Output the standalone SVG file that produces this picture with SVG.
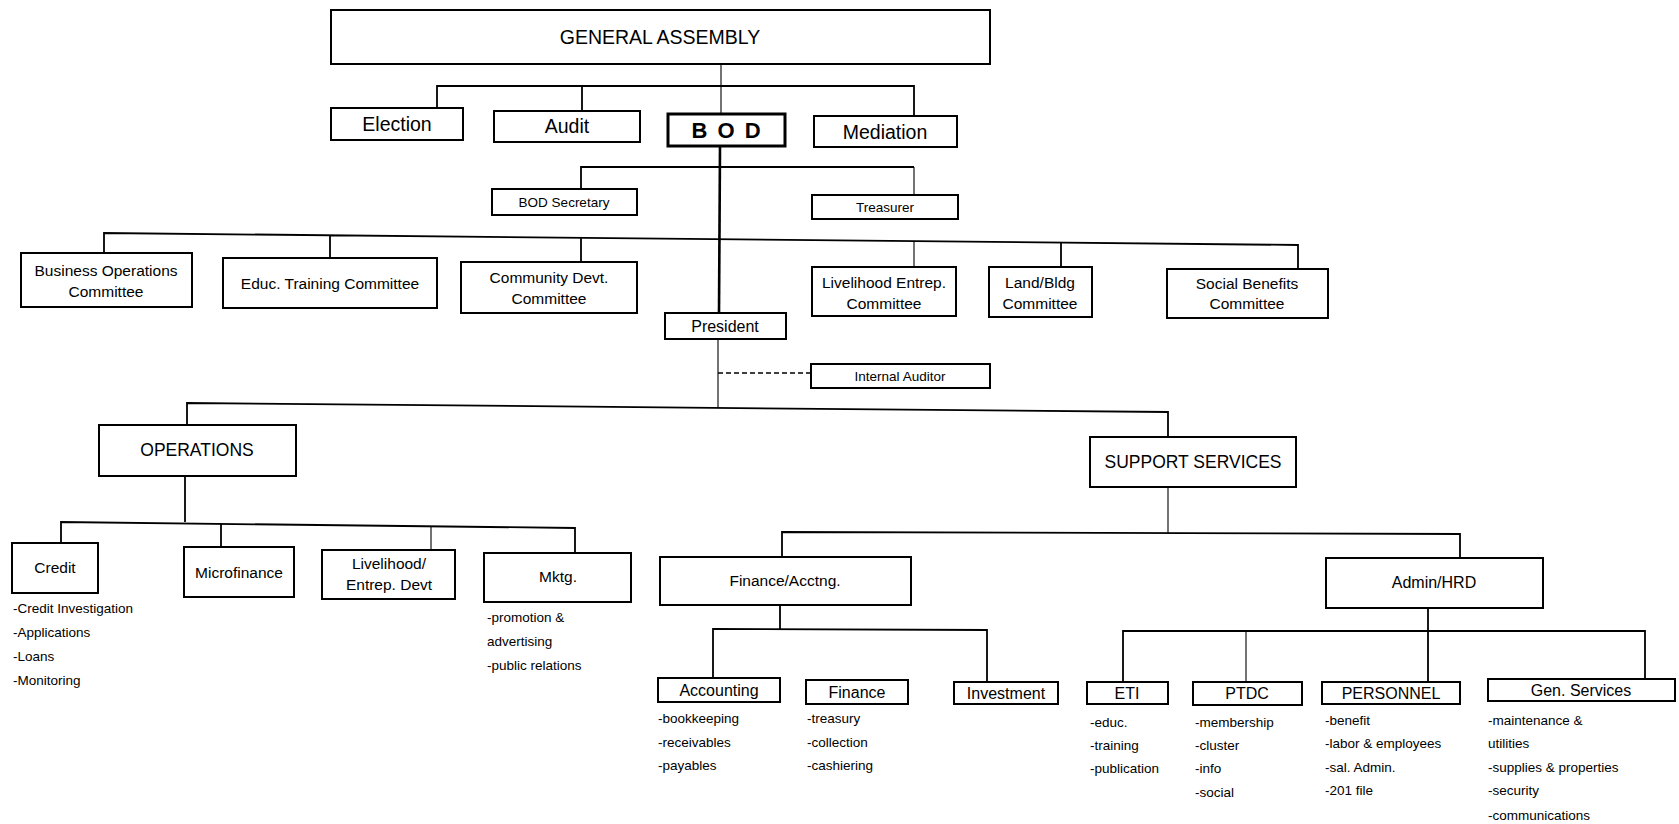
<svg xmlns="http://www.w3.org/2000/svg" width="1679" height="824" viewBox="0 0 1679 824">
<style>
.box{fill:#fff;stroke:#000;stroke-width:2}
.bold{stroke-width:3}
.c{stroke:#000;stroke-width:1.8;fill:none}
.thin{stroke:#000;stroke-width:1.1;fill:none}
.thick{stroke:#000;stroke-width:2.6;fill:none}
.dash{stroke:#000;stroke-width:1.4;stroke-dasharray:5 3;fill:none}
text{font-family:"Liberation Sans",Arial,sans-serif;fill:#000}
.m{text-anchor:middle}
.f19{font-size:19.5px}
.f17{font-size:17.5px}
.f16{font-size:16px}
.f15{font-size:15.5px}
.f13{font-size:13.5px}
.li{font-size:13.5px}
</style>
<rect width="1679" height="824" fill="#fff"/>
<g id="connectors">
<path class="thin" d="M721 64V86"/>
<path class="c" d="M437 108V86H914V116M582 86V111"/>
<path class="thin" d="M721 86V114"/>
<path class="thick" d="M720 146L719 313"/>
<path class="c" d="M581 189V167H914"/>
<path class="thin" d="M914 167V195"/>
<path class="c" d="M104 253V233L1298 245V269M330 235V258M581 237V262M1061 243V267"/>
<path class="thin" d="M914 242V267"/>
<path class="thin" d="M718 339V408"/>
<path class="dash" d="M718 373H811"/>
<path class="c" d="M187 425V403L1168 412V437"/>
<path class="c" d="M185 476V522"/>
<path class="c" d="M61 543V522L575 528V553"/>
<path class="c" d="M221 524V547"/>
<path class="thin" d="M431 526V550"/>
<path class="thin" d="M1168 487V533"/>
<path class="c" d="M782 557V532L1460 534V558"/>
<path class="c" d="M780 605V629"/>
<path class="c" d="M713 678V629L987 630V682"/>
<path class="c" d="M1428 608V682"/>
<path class="c" d="M1123 682V631H1645V679"/>
<path class="thin" d="M1246 631V682"/>
</g>
<g id="general-assembly"><rect class="box" x="331" y="10" width="659" height="54"/><text class="m f19" x="660" y="44">GENERAL ASSEMBLY</text></g>
<g id="election"><rect class="box" x="331" y="108" width="132" height="32"/><text class="m f19" x="397" y="131">Election</text></g>
<g id="audit"><rect class="box" x="494" y="111" width="146" height="31"/><text class="m f19" x="567" y="133">Audit</text></g>
<g id="bod"><rect class="box bold" x="668" y="114" width="117" height="32"/><text class="m" x="727" y="138" style="font-size:22px;font-weight:bold;letter-spacing:2px">B O D</text></g>
<g id="mediation"><rect class="box" x="814" y="116" width="143" height="31"/><text class="m f19" x="885" y="139">Mediation</text></g>
<g id="bod-secretary"><rect class="box" x="492" y="189" width="145" height="26"/><text class="m f13" x="564" y="207">BOD Secretary</text></g>
<g id="treasurer"><rect class="box" x="812" y="195" width="146" height="24"/><text class="m f13" x="885" y="212">Treasurer</text></g>
<g id="business-ops"><rect class="box" x="21" y="253" width="171" height="54"/><text class="m f15" x="106" y="276">Business Operations</text><text class="m f15" x="106" y="297">Committee</text></g>
<g id="educ-training"><rect class="box" x="223" y="258" width="214" height="50"/><text class="m f15" x="330" y="289">Educ. Training Committee</text></g>
<g id="community-devt"><rect class="box" x="461" y="262" width="176" height="51"/><text class="m f15" x="549" y="283">Community Devt.</text><text class="m f15" x="549" y="304">Committee</text></g>
<g id="livelihood-committee"><rect class="box" x="812" y="267" width="144" height="49"/><text class="m f15" x="884" y="288">Livelihood Entrep.</text><text class="m f15" x="884" y="309">Committee</text></g>
<g id="land-bldg"><rect class="box" x="989" y="267" width="103" height="50"/><text class="m f15" x="1040" y="288">Land/Bldg</text><text class="m f15" x="1040" y="309">Committee</text></g>
<g id="social-benefits"><rect class="box" x="1167" y="269" width="161" height="49"/><text class="m f15" x="1247" y="289">Social Benefits</text><text class="m f15" x="1247" y="309">Committee</text></g>
<g id="president"><rect class="box" x="665" y="313" width="121" height="26"/><text class="m f16" x="725" y="332">President</text></g>
<g id="internal-auditor"><rect class="box" x="811" y="364" width="179" height="24"/><text class="m f13" x="900" y="381">Internal Auditor</text></g>
<g id="operations"><rect class="box" x="99" y="425" width="197" height="51"/><text class="m f17" x="197" y="456">OPERATIONS</text></g>
<g id="support-services"><rect class="box" x="1090" y="437" width="206" height="50"/><text class="m f17" x="1193" y="468">SUPPORT SERVICES</text></g>
<g id="credit"><rect class="box" x="12" y="543" width="86" height="50"/><text class="m f15" x="55" y="573">Credit</text>
<text class="li" x="13" y="613">-Credit Investigation</text><text class="li" x="13" y="637">-Applications</text><text class="li" x="13" y="661">-Loans</text><text class="li" x="13" y="685">-Monitoring</text></g>
<g id="microfinance"><rect class="box" x="184" y="547" width="110" height="50"/><text class="m f15" x="239" y="578">Microfinance</text></g>
<g id="livelihood-devt"><rect class="box" x="322" y="550" width="133" height="49"/><text class="m f15" x="389" y="569">Livelihood/</text><text class="m f15" x="389" y="590">Entrep. Devt</text></g>
<g id="mktg"><rect class="box" x="484" y="553" width="147" height="49"/><text class="m f15" x="558" y="582">Mktg.</text>
<text class="li" x="487" y="622">-promotion &amp;</text><text class="li" x="487" y="646">advertising</text><text class="li" x="487" y="670">-public relations</text></g>
<g id="finance-acctng"><rect class="box" x="660" y="557" width="251" height="48"/><text class="m f15" x="785" y="586">Finance/Acctng.</text></g>
<g id="admin-hrd"><rect class="box" x="1326" y="558" width="217" height="50"/><text class="m f16" x="1434" y="588">Admin/HRD</text></g>
<g id="accounting"><rect class="box" x="658" y="678" width="122" height="24"/><text class="m f16" x="719" y="696">Accounting</text>
<text class="li" x="658" y="723">-bookkeeping</text><text class="li" x="658" y="747">-receivables</text><text class="li" x="658" y="770">-payables</text></g>
<g id="finance"><rect class="box" x="806" y="680" width="102" height="24"/><text class="m f16" x="857" y="698">Finance</text>
<text class="li" x="807" y="723">-treasury</text><text class="li" x="807" y="747">-collection</text><text class="li" x="807" y="770">-cashiering</text></g>
<g id="investment"><rect class="box" x="954" y="682" width="104" height="22"/><text class="m f16" x="1006" y="699">Investment</text></g>
<g id="eti"><rect class="box" x="1087" y="682" width="81" height="22"/><text class="m f16" x="1127" y="699">ETI</text>
<text class="li" x="1090" y="727">-educ.</text><text class="li" x="1090" y="750">-training</text><text class="li" x="1090" y="773">-publication</text></g>
<g id="ptdc"><rect class="box" x="1193" y="682" width="109" height="23"/><text class="m f16" x="1247" y="699">PTDC</text>
<text class="li" x="1195" y="727">-membership</text><text class="li" x="1195" y="750">-cluster</text><text class="li" x="1195" y="773">-info</text><text class="li" x="1195" y="797">-social</text></g>
<g id="personnel"><rect class="box" x="1322" y="682" width="138" height="22"/><text class="m f16" x="1391" y="699">PERSONNEL</text>
<text class="li" x="1325" y="725">-benefit</text><text class="li" x="1325" y="748">-labor &amp; employees</text><text class="li" x="1325" y="772">-sal. Admin.</text><text class="li" x="1325" y="795">-201 file</text></g>
<g id="gen-services"><rect class="box" x="1488" y="679" width="187" height="22"/><text class="m f16" x="1581" y="696">Gen. Services</text>
<text class="li" x="1488" y="725">-maintenance &amp;</text><text class="li" x="1488" y="748">utilities</text><text class="li" x="1488" y="772">-supplies &amp; properties</text><text class="li" x="1488" y="795">-security</text><text class="li" x="1488" y="820">-communications</text></g>
</svg>
